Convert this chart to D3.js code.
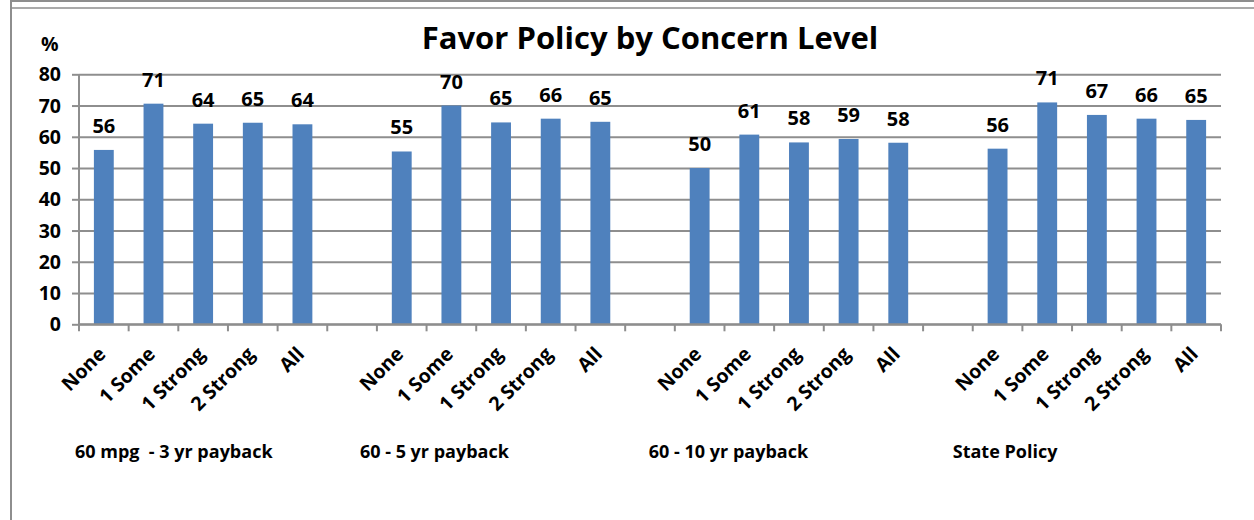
<!DOCTYPE html>
<html>
<head>
<meta charset="utf-8">
<script src="https://cdn.jsdelivr.net/npm/d3@7/dist/d3.min.js"></script>
<style>
  html, body { margin: 0; padding: 0; background: #fff; }
  svg { display: block; font-family: "Open Sans", "Noto Sans", sans-serif; font-weight: bold; }
  .caption { white-space: pre; }
</style>
</head>
<body>
<svg id="chart" width="1254" height="520"></svg>
<script>
// Concern levels shown within each policy group
const categories = ["None", "1 Some", "1 Strong", "2 Strong", "All"];

// Policy groups along the x axis
const groups = ["60 mpg  - 3 yr payback", "60 - 5 yr payback", "60 - 10 yr payback", "State Policy"];

// Percent in favour, one array per policy group (same order as categories)
const mpg3yr   = [55.8, 70.6, 64.2, 64.5, 64.0];
const mpg5yr   = [55.3, 70.0, 64.6, 65.8, 64.8];
const mpg10yr  = [50.0, 60.7, 58.2, 59.3, 58.1];
const statePol = [56.2, 71.0, 67.0, 65.8, 65.4];
const seriesByGroup = [mpg3yr, mpg5yr, mpg10yr, statePol];

// Y axis ticks
const yTicks = [0, 10, 20, 30, 40, 50, 60, 70, 80];

const title = "Favor Policy by Concern Level";
const yUnit = "%";

// ---- layout ----
const W = 1254, H = 520;
const plot = { left: 79, right: 1221, top: 74.3, bottom: 324.3 };
const barColor = "#4F81BD";
const gridColor = "#8e8e8e";

const svg = d3.select("#chart");

// Frame lines
svg.append("line").attr("x1", 11).attr("x2", W).attr("y1", 1).attr("y2", 1)
  .attr("stroke", "#8e8e8e").attr("stroke-width", 2);
svg.append("line").attr("x1", 11).attr("x2", W).attr("y1", 8).attr("y2", 8)
  .attr("stroke", "#8e8e8e").attr("stroke-width", 1.5);
svg.append("line").attr("x1", 11).attr("x2", 11).attr("y1", 0).attr("y2", H)
  .attr("stroke", "#8e8e8e").attr("stroke-width", 2);

// Slot keys: every group's categories, with an empty slot between groups
const slots = [];
const rows = [];
groups.forEach((g, gi) => {
  categories.forEach((c, ci) => {
    const key = gi + "|" + c;
    slots.push(key);
    rows.push({ key, group: g, gi, cat: c, value: seriesByGroup[gi][ci] });
  });
  if (gi < groups.length - 1) slots.push("gap" + gi);
});

const x = d3.scaleBand().domain(slots).range([plot.left, plot.right]).padding(0);
const step = x.step();
const barW = step / 2.5;

const y = d3.scaleLinear().domain([0, 80]).range([plot.bottom, plot.top]);

// Horizontal gridlines
const yAxis = d3.axisLeft(y).tickValues(yTicks).tickSize(-(plot.right - plot.left)).tickPadding(0).tickFormat("");
const gy = svg.append("g").attr("transform", `translate(${plot.left},0)`).call(yAxis);
gy.select(".domain").remove();
gy.selectAll(".tick line").attr("stroke", gridColor).attr("stroke-width", 2);
// small outward tick marks on the value axis
gy.selectAll(".tick").append("line").attr("x1", -7).attr("x2", 0)
  .attr("stroke", gridColor).attr("stroke-width", 2);

// Value axis line
svg.append("line").attr("x1", plot.left).attr("x2", plot.left)
  .attr("y1", plot.top).attr("y2", plot.bottom)
  .attr("stroke", gridColor).attr("stroke-width", 2);

// Y tick labels
svg.append("g").selectAll("text").data(yTicks).join("text")
  .attr("x", plot.left - 18).attr("y", d => y(d)).attr("dy", "0.36em")
  .attr("text-anchor", "end").attr("font-size", 19.5).attr("fill", "#000")
  .text(d => d);

// Bars
svg.append("g").selectAll("rect").data(rows).join("rect")
  .attr("x", d => x(d.key) + (step - barW) / 2)
  .attr("width", barW)
  .attr("y", d => y(d.value))
  .attr("height", d => y(0) - y(d.value))
  .attr("fill", barColor);

// Category axis line and tick marks at slot boundaries
svg.append("line").attr("x1", plot.left).attr("x2", plot.right)
  .attr("y1", y(0)).attr("y2", y(0)).attr("stroke", gridColor).attr("stroke-width", 2);
const bounds = slots.map(k => x(k)).concat([plot.right]);
svg.append("g").selectAll("line").data(bounds).join("line")
  .attr("x1", d => d).attr("x2", d => d)
  .attr("y1", y(0)).attr("y2", y(0) + 7)
  .attr("stroke", gridColor).attr("stroke-width", 2);

// Value labels
svg.append("g").selectAll("text").data(rows).join("text")
  .attr("x", d => x(d.key) + step / 2)
  .attr("y", d => y(d.value) - 17)
  .attr("text-anchor", "middle").attr("font-size", 20).attr("fill", "#000")
  .text(d => d3.format(".0f")(d.value));

// Rotated category labels
svg.append("g").selectAll("text").data(rows).join("text")
  .attr("transform", d => `translate(${x(d.key) + step / 2 + 3},${y(0) + 31}) rotate(-45)`)
  .attr("text-anchor", "end").attr("font-size", 19.5).attr("fill", "#000")
  .text(d => d.cat);

// Group captions below the category labels
const captionShift = [-4, -17, -26, -20];
svg.append("g").selectAll("text").data(groups).join("text")
  .attr("class", "caption")
  .attr("x", (g, i) => x(i + "|" + categories[0]) + captionShift[i])
  .attr("y", 458)
  .attr("font-size", 18).attr("fill", "#000")
  .text(g => g);

// Title and unit
svg.append("text").attr("x", 650).attr("y", 49).attr("text-anchor", "middle")
  .attr("font-size", 31).attr("fill", "#000").text(title);
svg.append("text").attr("x", 41).attr("y", 51)
  .attr("font-size", 19.5).attr("fill", "#000").text(yUnit);
</script>
</body>
</html>
